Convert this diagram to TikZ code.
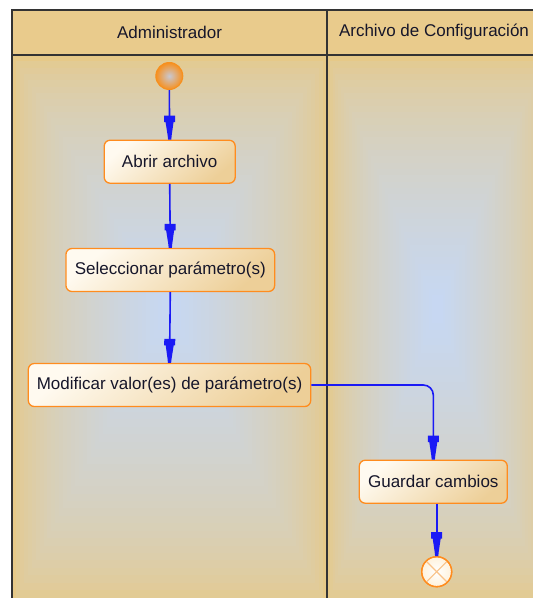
\documentclass[tikz,border=0pt]{standalone}
\usepackage{fontspec}
\setmainfont{Liberation Sans}
\usetikzlibrary{arrows.meta}
\definecolor{lanetan}{HTML}{E6C988}
\definecolor{laneblue}{HTML}{C6D8F5}
\definecolor{headtan}{HTML}{E9CB8C}
\definecolor{frameclr}{HTML}{333333}
\definecolor{nodeorange}{HTML}{FF8C1E}
\definecolor{nodelight}{HTML}{FFFAF0}
\definecolor{nodedark}{HTML}{EDCF98}
\definecolor{flowblue}{HTML}{1A1AF5}
\definecolor{txt}{HTML}{16162A}
\definecolor{startgray}{HTML}{C8C8D2}
\definecolor{startorange}{HTML}{F7901E}
\definecolor{endcream}{HTML}{FFF2DC}
\definecolor{endx}{HTML}{F9C288}
\pgfdeclarearrow{
  name=UMLtip,
  setup code={
    \pgfarrowssettipend{0pt}
    \pgfarrowssetlineend{-12pt}
    \pgfarrowssetbackend{-24pt}
    \pgfarrowssetvisualbackend{-24pt}
    \pgfarrowshullpoint{0pt}{1.6pt}
    \pgfarrowshullpoint{0pt}{-1.6pt}
    \pgfarrowshullpoint{-24pt}{5.5pt}
    \pgfarrowshullpoint{-24pt}{-5.5pt}
  },
  drawing code={
    \pgfsetfillcolor{flowblue}
    \pgfpathmoveto{\pgfqpoint{0pt}{1.6pt}}
    \pgfpathlineto{\pgfqpoint{-4pt}{2pt}}
    \pgfpathlineto{\pgfqpoint{-17.5pt}{4pt}}
    \pgfpathlineto{\pgfqpoint{-17.5pt}{5.5pt}}
    \pgfpathlineto{\pgfqpoint{-24pt}{5.5pt}}
    \pgfpathlineto{\pgfqpoint{-24pt}{-5.5pt}}
    \pgfpathlineto{\pgfqpoint{-17.5pt}{-5.5pt}}
    \pgfpathlineto{\pgfqpoint{-17.5pt}{-4pt}}
    \pgfpathlineto{\pgfqpoint{-4pt}{-2pt}}
    \pgfpathlineto{\pgfqpoint{0pt}{-1.6pt}}
    \pgfpathclose
    \pgfusepathqfill
  }
}
\begin{document}
\begin{tikzpicture}[x=1pt,y=-1pt,
  action/.style={draw=nodeorange, line width=1.3pt, rounded corners=6pt,
    minimum height=43pt, inner sep=0pt, shading=axis, top color=nodelight,
    bottom color=nodedark, shading angle=40, text=txt,
    font=\fontsize{17}{20}\selectfont},
  lanetitle/.style={text=txt, inner sep=0pt, font=\fontsize{17}{20}\selectfont},
  flow/.style={draw=flowblue, line width=1.6pt, -UMLtip},
  startnode/.style={circle, minimum size=27pt, inner sep=0pt, draw=startorange,
    line width=1pt, shading=radial, inner color=startgray, outer color=startorange},
  endnode/.style={circle, minimum size=30pt, inner sep=0pt, draw=nodeorange,
    line width=1.3pt, shading=radial, inner color=white, outer color=endcream},
  frame/.style={draw=frameclr, line width=1.5pt}
]
\useasboundingbox (0,0) rectangle (533,598);
\clip (0,0) rectangle (533,598);
\fill[white] (0,0) rectangle (533,598);
% lane backgrounds (box gradient converging to a centre point)
\foreach \xa/\xb/\cx in {12/327/169.5, 327/547/437} {
  \pgfmathsetmacro\dxl{(\cx-\xa)/40}
  \pgfmathsetmacro\dxr{(\xb-\cx)/40}
  \pgfmathsetmacro\dyt{(308-55)/40}
  \pgfmathsetmacro\dyb{(605-308)/40}
  \foreach \i in {0,...,38} {
    \pgfmathsetmacro\p{100*(\i/40)^0.6}
    \fill[laneblue!\p!lanetan] (\xa+\i*\dxl,55+\i*\dyt) rectangle (\xb-\i*\dxr,605-\i*\dyb);
  }
}
% header
\fill[headtan] (12,10) rectangle (547,55);
\draw[frame] (12,610) -- (12,10) -- (547,10);
\draw[frame] (12,55) -- (547,55);
\draw[frame] (327,10) -- (327,610);
\node[lanetitle] (t1) at (169.5,32.5) {Administrador};
\node[lanetitle] (t2) at (434,32.5) {Archivo de Configuración};
% nodes
\node[startnode] (start) at (169.3,76) {};
\node[action, minimum width=131pt] (abrir) at (169.7,161.7) {Abrir archivo};
\node[action, minimum width=208.7pt] (selec) at (170.3,270) {Seleccionar parámetro(s)};
\node[action, minimum width=282.4pt] (modif) at (169.5,385) {Modificar valor(es) de parámetro(s)};
\node[action, minimum width=148pt] (guardar) at (433.3,481.7) {Guardar cambios};
\node[endnode] (fin) at (436.7,571.7) {};
\draw[endx, line width=1.1pt] (fin.north west) -- (fin.south east);
\draw[endx, line width=1.1pt] (fin.north east) -- (fin.south west);
\draw[draw=nodeorange, line width=1.3pt] (fin) circle (15pt);
% flows
\draw[flow] (start.south) -- (abrir.north);
\draw[flow] (abrir.south) -- (selec.north);
\draw[flow] (selec.south) -- (modif.north);
\draw[flow, rounded corners=10pt] (modif.east) -| (guardar.north);
\draw[flow] (fin |- guardar.south) -- (fin.north);
\end{tikzpicture}
\end{document}
